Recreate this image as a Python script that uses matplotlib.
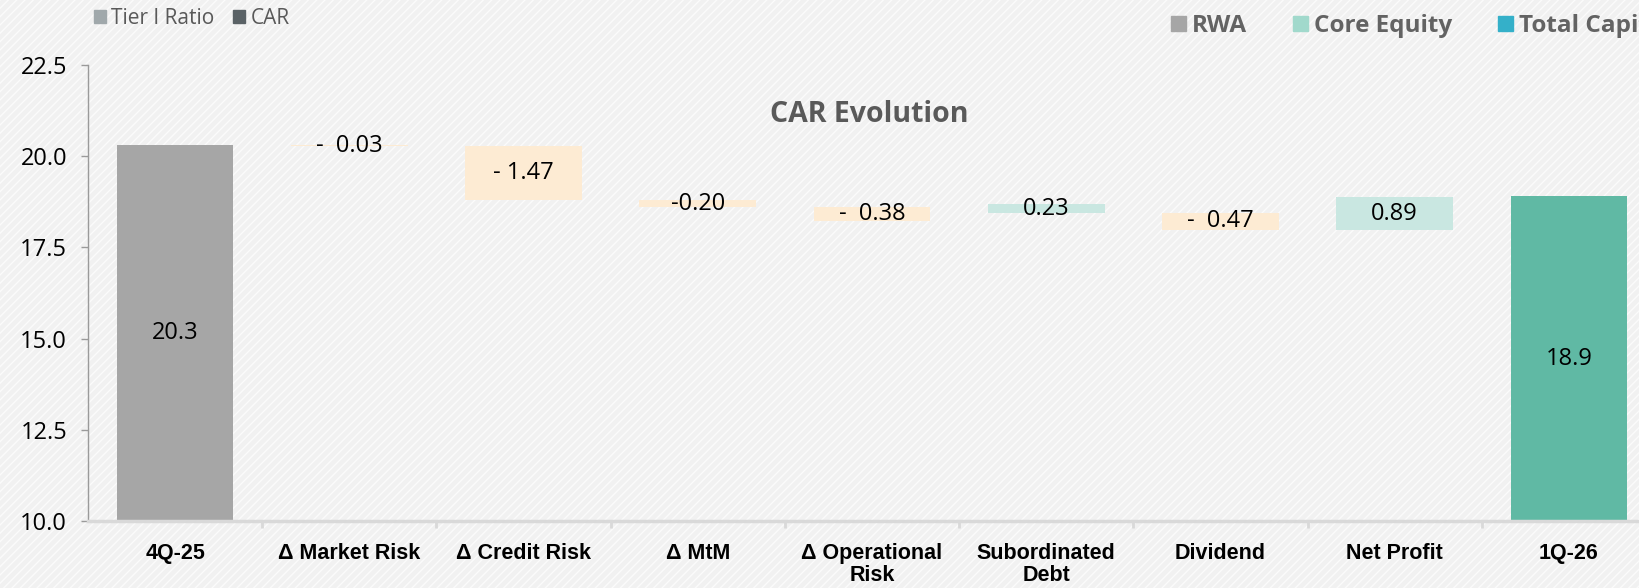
"""
CAR Evolution — waterfall 4Q-25 -> 1Q-26
Saves out.png
"""
import matplotlib
matplotlib.use('Agg')
import matplotlib.pyplot as plt
from matplotlib.patches import Rectangle, Patch

W, H = 1640, 588

# ---- data ----
categories = ['4Q-25', 'Δ Market Risk', 'Δ Credit Risk', 'Δ MtM', 'Δ Operational\nRisk',
              'Subordinated\nDebt', 'Dividend', 'Net Profit', '1Q-26']
changes = [20.3, -0.03, -1.47, -0.20, -0.38, 0.23, -0.47, 0.89, 18.9]
# lower end of each floating bar (totals start at 0)
bar_low = [0, 20.27, 18.80, 18.60, 18.22, 18.45, 17.98, 17.98, 0]
labels = ['20.3', '-  0.03', '- 1.47', '-0.20', '-  0.38', '0.23', '-  0.47', '0.89', '18.9']
y_ticks = [10.0, 12.5, 15.0, 17.5, 20.0, 22.5]

legend_left = [('Tier I Ratio', '#a0a8ab'), ('CAR', '#5a6266')]
legend_right = [('RWA', '#a6a6a6'), ('Core Equity', '#a1d9cc'), ('Total Capital', '#34b0c9')]

C_FIRST, C_LAST = '#a6a6a6', '#60b9a4'
C_NEG, C_POS = '#fdebd3', '#c9e7e1'

REG = ['Open Sans', 'DejaVu Sans']
COND = ['Liberation Sans Narrow', 'Liberation Sans', 'DejaVu Sans']

plt.rcParams['hatch.linewidth'] = 1.0

fig = plt.figure(figsize=(W / 100, H / 100), dpi=100, facecolor='#f1f1f1')
bg = Rectangle((0, 0), 1, 1, transform=fig.transFigure, facecolor='#f1f1f1',
               edgecolor='#fbfbfb', hatch='////', lw=0, zorder=-10)
fig.patches.append(bg)

ax = fig.add_axes([88 / W, 1 - 521 / H, 1568 / W, (521 - 65) / H])
ax.set_facecolor('none')

x = list(range(len(categories)))
heights = [abs(v) for v in changes]
colors = []
for i, v in enumerate(changes):
    if i == 0:
        colors.append(C_FIRST)
    elif i == len(changes) - 1:
        colors.append(C_LAST)
    else:
        colors.append(C_NEG if v < 0 else C_POS)

ax.bar(x, heights, bottom=bar_low, width=0.67, color=colors, zorder=2)

ax.set_ylim(10, 22.5)
ax.set_xlim(-0.5, len(categories) - 0.5)

for i, (lo, h, lab) in enumerate(zip(bar_low, heights, labels)):
    if i in (0, len(categories) - 1):
        ymid = (10 + h) / 2
    else:
        ymid = lo + h / 2
    ax.text(i, ymid, lab, ha='center', va='center', fontsize=17, family=REG,
            color='black', zorder=3)

# axes styling
for s in ['top', 'right']:
    ax.spines[s].set_visible(False)
ax.spines['left'].set_color('#9a9a9a')
ax.spines['left'].set_linewidth(1)
ax.spines['bottom'].set_color('#d9d9d9')
ax.spines['bottom'].set_linewidth(2.5)

ax.set_yticks(y_ticks)
ax.set_yticklabels([f'{t:.1f}' for t in y_ticks], fontsize=17, family=REG)
ax.tick_params(axis='y', length=5, width=1, color='#9a9a9a', pad=10)

ax.set_xticks(x)
ax.set_xticklabels(categories, fontsize=15.5, fontweight='bold', family=COND,
                   linespacing=1.05)
ax.tick_params(axis='x', which='major', length=0, pad=16)
ax.set_xticks([i + 0.5 for i in x[:-1]], minor=True)
ax.tick_params(axis='x', which='minor', length=5, width=2, color='#d9d9d9')

fig.text(869 / W, 1 - 114 / H, 'CAR Evolution', ha='center', va='center',
         fontsize=20.5, fontweight='bold', family=REG, color='#595959')

# legends left over from the source deck
lg1 = fig.legend(handles=[Patch(color=c, label=n) for n, c in legend_left],
                 loc='center left', bbox_to_anchor=(94 / W, 1 - 18 / H), ncol=2,
                 frameon=False, borderpad=0, borderaxespad=0,
                 handlelength=0.58, handleheight=0.58, handletextpad=0.25,
                 columnspacing=0.9, prop={'family': REG, 'size': 15},
                 labelcolor='#595959')
lg2 = fig.legend(handles=[Patch(color=c, label=n) for n, c in legend_right],
                 loc='center left', bbox_to_anchor=(1171 / W, 1 - 26 / H), ncol=3,
                 frameon=False, borderpad=0, borderaxespad=0,
                 handlelength=0.6, handleheight=0.6, handletextpad=0.26,
                 columnspacing=1.9, prop={'family': REG, 'size': 17.5, 'weight': 'bold'},
                 labelcolor='#636363')

plt.savefig('out.png', dpi=100, facecolor=fig.get_facecolor())
plt.close()
